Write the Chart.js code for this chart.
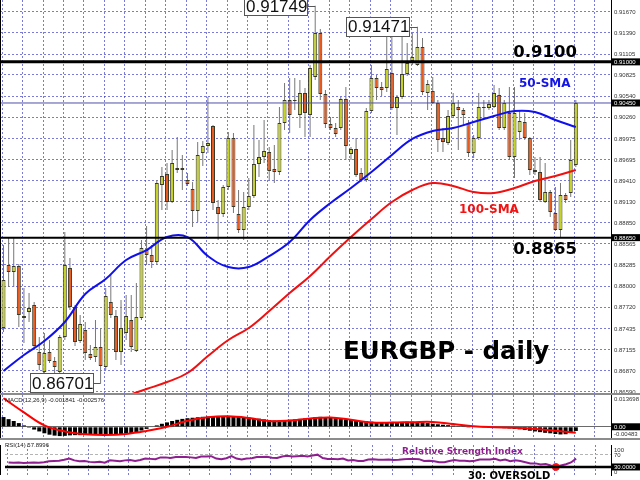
<!DOCTYPE html>
<html>
<head>
<meta charset="utf-8">
<title>EURGBP - daily</title>
<script src="https://cdn.jsdelivr.net/npm/chart.js@4.4.1/dist/chart.umd.min.js"></script>
<style>
  body { margin: 0; background: #fff; }
  #box { position: relative; width: 640px; height: 480px; overflow: hidden; background: #fff; }
  canvas { position: absolute; left: 0; }
  .sep { position: absolute; left: 0; width: 640px; height: 2px; background: #8c8c8c; }
</style>
</head>
<body>
<div id="box">
  <canvas id="priceChart" width="640" height="393" style="top:0"></canvas>
  <div class="sep" style="top:393px"></div>
  <canvas id="macdChart" width="640" height="43" style="top:395px"></canvas>
  <div class="sep" style="top:438px"></div>
  <canvas id="rsiChart" width="640" height="40" style="top:440px"></canvas>
</div>
<script>
// daily candles
var open = [
  0.87442,0.88284,0.88190,0.88271,0.87575,0.87656,0.87749,0.87121,0.86853,0.87121,
  0.87001,0.86853,0.87321,0.88244,0.87722,0.87268,0.87415,0.87094,0.87054,0.87188,
  0.86920,0.87789,0.87602,0.87121,0.87375,0.87549,0.87134,0.87575,0.88484,0.88418,
  0.88324,0.89354,0.89501,0.89126,0.89581,0.89554,0.89420,0.89300,0.89006,0.89781,
  0.89875,0.90142,0.89059,0.88966,0.89327,0.89982,0.88966,0.88752,0.89059,0.89206,
  0.89634,0.89728,0.89795,0.89567,0.89527,0.90182,0.90490,0.90490,0.90289,0.90584,
  0.90289,0.90798,0.91386,0.90570,0.90169,0.90116,0.90116,0.90503,0.89768,0.89835,
  0.89514,0.89420,0.90343,0.90784,0.90664,0.90650,0.90851,0.90383,0.90530,0.90838,
  0.91011,0.90958,0.91199,0.90584,0.90610,0.90450,0.89982,0.89915,0.90276,0.90396,
  0.90356,0.90182,0.89781,0.89982,0.90396,0.90383,0.90396,0.90557,0.90116,0.90316,
  0.89728,0.90062,0.90196,0.89982,0.89527,0.89527,0.89126,0.89260,0.88979,0.88752,
  0.89220,0.89247,0.89621
];
var high = [
  0.88551,0.88645,0.88645,0.88297,0.87976,0.87910,0.87789,0.87321,0.87375,0.87281,
  0.87054,0.87348,0.88725,0.88378,0.87749,0.87615,0.87522,0.87214,0.87549,0.87442,
  0.87976,0.88150,0.87682,0.87816,0.87883,0.87883,0.88043,0.88618,0.88805,0.88551,
  0.89420,0.89594,0.89648,0.89821,0.89995,0.89755,0.89514,0.89394,0.89928,0.89942,
  0.90530,0.90156,0.89153,0.89354,0.90062,0.90049,0.89287,0.89260,0.89447,0.90156,
  0.89955,0.90223,0.89862,0.89888,0.90396,0.90717,0.90784,0.90784,0.90757,0.90650,
  0.90958,0.91749,0.91439,0.90624,0.90263,0.90182,0.90530,0.90664,0.89862,0.89982,
  0.89581,0.90383,0.90958,0.90824,0.90731,0.91426,0.91359,0.90557,0.91386,0.91252,
  0.91386,0.91471,0.91319,0.90757,0.90798,0.90490,0.90116,0.90356,0.90584,0.90490,
  0.90383,0.90223,0.90022,0.90584,0.90490,0.90490,0.90691,0.90650,0.90490,0.90664,
  0.90664,0.90356,0.90316,0.89995,0.89728,0.89728,0.89648,0.89287,0.89327,0.89380,
  0.89247,0.89955,0.90490
];
var low = [
  0.87388,0.87990,0.87990,0.87455,0.87241,0.87522,0.87147,0.86880,0.86827,0.86974,
  0.86840,0.86827,0.87281,0.87682,0.87201,0.87241,0.87014,0.87014,0.86987,0.86701,
  0.86880,0.87575,0.87014,0.86947,0.87281,0.87121,0.87121,0.87549,0.88284,0.88244,
  0.88284,0.89019,0.89019,0.89113,0.89514,0.89287,0.89340,0.88792,0.88859,0.89608,
  0.89781,0.89019,0.88618,0.88926,0.89287,0.88979,0.88712,0.88618,0.89019,0.89180,
  0.89461,0.89648,0.89420,0.89380,0.89487,0.90089,0.90049,0.90356,0.90116,0.89995,
  0.89995,0.90757,0.90490,0.90116,0.90089,0.89995,0.90089,0.89688,0.89688,0.89461,
  0.89394,0.89394,0.90316,0.90490,0.90543,0.90597,0.90356,0.90022,0.90503,0.90811,
  0.90958,0.90945,0.90557,0.90356,0.90437,0.89795,0.89795,0.89888,0.90249,0.89821,
  0.90156,0.89728,0.89715,0.89955,0.90249,0.90356,0.90383,0.90089,0.90089,0.89688,
  0.89447,0.89955,0.89955,0.89487,0.89487,0.89126,0.89113,0.88926,0.88739,0.88655,
  0.89113,0.89193,0.89594
];
var close = [
  0.88083,0.88190,0.88271,0.87615,0.87602,0.87709,0.87201,0.86947,0.87107,0.87001,
  0.86920,0.87321,0.88284,0.87722,0.87254,0.87495,0.87107,0.87041,0.87188,0.86934,
  0.87869,0.87615,0.87121,0.87442,0.87602,0.87188,0.87589,0.88511,0.88418,0.88324,
  0.89380,0.89474,0.89126,0.89648,0.89554,0.89581,0.89367,0.89006,0.89755,0.89875,
  0.89915,0.89113,0.88966,0.89327,0.89982,0.89059,0.88752,0.89059,0.89206,0.89634,
  0.89728,0.89808,0.89541,0.89527,0.90182,0.90490,0.90289,0.90477,0.90584,0.90316,
  0.90918,0.91386,0.90570,0.90169,0.90116,0.90035,0.90503,0.89875,0.89835,0.89487,
  0.89420,0.90343,0.90784,0.90650,0.90624,0.90904,0.90383,0.90530,0.90838,0.90985,
  0.91065,0.91199,0.90597,0.90704,0.90450,0.89955,0.89928,0.90276,0.90450,0.90356,
  0.90289,0.89781,0.89982,0.90396,0.90383,0.90437,0.90584,0.90116,0.90450,0.89728,
  0.90316,0.90209,0.89982,0.89554,0.89554,0.89153,0.89260,0.88993,0.88752,0.89220,
  0.89153,0.89688,0.90450
];
var days = close.map(function (c, i) { return i; });

// moving averages, read every 4th day
var smaDays = [0,4,8,12,16,20,24,28,32,36,40,44,48,52,56,60,64,68,72,76,80,84,88,92,96,100,104,108,112];
var sma50 = [0.86867,0.87081,0.87268,0.87522,0.87896,0.88097,0.88351,0.88484,0.88658,0.88658,
  0.88404,0.88257,0.88257,0.88404,0.88591,0.88886,0.89113,0.89313,0.89527,0.89755,
  0.89969,0.90076,0.90116,0.90196,0.90276,0.90343,0.90330,0.90223,0.90129];
var sma100 = [null,null,null,null,null,null,0.86533,0.86626,0.86720,0.86840,
  0.87067,0.87281,0.87442,0.87669,0.87910,0.88137,0.88404,0.88658,0.88899,0.89126,
  0.89287,0.89380,0.89340,0.89260,0.89247,0.89313,0.89407,0.89474,0.89554];

var priceTicks = [0.91670,0.91390,0.91105,0.90825,0.90540,0.90260,0.89975,0.89695,0.89410,
  0.89130,0.88850,0.88565,0.88285,0.88000,0.87720,0.87435,0.87155,0.86870,0.86590];
var levels = [0.9100, 0.9045, 0.8865];
var swingDays = [61, 81, 19];
var swingPrices = [0.91749, 0.91471, 0.86701];

// MACD(12,26,9)
var macd = [
  0.0042,0.0033,0.0025,0.0016,0.0006,-0.0004,-0.0012,-0.0020,-0.0028,-0.0034,
  -0.0038,-0.0040,-0.0039,-0.0037,-0.0036,-0.0036,-0.0035,-0.0035,-0.0034,-0.0035,
  -0.0033,-0.0032,-0.0032,-0.0031,-0.0030,-0.0029,-0.0024,-0.0016,-0.0009,-0.0002,
  0.0006,0.0013,0.0019,0.0025,0.0030,0.0034,0.0037,0.0039,0.0041,0.0043,
  0.0044,0.0045,0.0045,0.0044,0.0045,0.0044,0.0043,0.0042,0.0040,0.0038,
  0.0035,0.0032,0.0029,0.0027,0.0027,0.0028,0.0030,0.0032,0.0034,0.0036,
  0.0038,0.0041,0.0043,0.0041,0.0039,0.0037,0.0035,0.0032,0.0030,0.0027,
  0.0025,0.0024,0.0022,0.0020,0.0019,0.0020,0.0021,0.0020,0.0021,0.0022,
  0.0022,0.0021,0.0019,0.0016,0.0013,0.0011,0.0009,0.0007,0.0005,0.0003,
  0.0001,-0.0001,-0.0002,-0.0002,-0.0003,-0.0004,-0.0004,-0.0005,-0.0006,-0.0007,
  -0.0009,-0.0011,-0.0014,-0.0017,-0.0020,-0.0023,-0.0026,-0.0028,-0.0031,-0.0033,
  -0.0032,-0.0027,-0.0018
];
var signal = [0.0123,0.0062,0.0006,-0.0020,-0.0032,-0.0035,-0.0031,-0.0018,0.0000,0.0026,
  0.0041,0.0045,0.0038,0.0025,0.0027,0.0036,0.0040,0.0030,0.0019,0.0018,
  0.0020,0.0021,0.0012,0.0002,-0.0002,-0.0004,-0.0009,-0.0017,-0.0026];
var macdLegend = [-0.001841, -0.002576];

// RSI(14)
var rsi = [
  45,44,45,43,44,45,44,46,49,50,
  51,54,58,52,49,50,47,46,47,44,
  52,51,49,52,53,50,53,58,57,56,
  62,62,60,63,63,63,62,60,65,65,
  66,58,56,59,66,58,55,58,59,63,
  63,64,61,60,65,67,65,66,67,65,
  68,71,60,57,57,56,58,52,53,50,
  50,55,56,54,54,55,53,54,56,57,
  57,56,50,51,49,46,46,50,53,51,
  51,49,51,55,55,55,57,52,55,49,
  52,50,46,42,42,38,40,35,31,35,
  39,45,57.8996
];
var oversoldDays = [108];
var oversoldValues = [30];

var X_MIN = -0.685, X_MAX = 118.885;
var GRID = 'rgba(50, 50, 200, 0.65)';
var AXIS_FONT = '6px "Liberation Sans", Arial, sans-serif';
var BOLD = '"DejaVu Sans", Verdana, sans-serif';

function xAxis() {
  return {
    type: 'linear', min: X_MIN, max: X_MAX, offset: false,
    afterBuildTicks: function (s) {
      s.ticks = [];
      for (var k = 0; k * 4 - 0.25 <= X_MAX; k++) s.ticks.push({ value: k * 4 - 0.25 });
    },
    afterFit: function (s) { s.height = 0; },
    ticks: { display: false },
    grid: { color: GRID, drawTicks: false, offset: false },
    border: { display: false, dash: [2, 2] }
  };
}

function yAxis(min, max, tickVals, color, dash) {
  return {
    position: 'right', min: min, max: max,
    afterBuildTicks: function (s) { s.ticks = tickVals.map(function (v) { return { value: v }; }); },
    afterFit: function (s) { s.width = 29; },
    ticks: { display: false },
    grid: { color: color, drawTicks: false },
    border: { display: true, color: '#000', width: 1, dash: dash }
  };
}

function axisLabel(ctx, area, y, text, boxed) {
  ctx.save();
  ctx.font = AXIS_FONT;
  ctx.textAlign = 'left';
  ctx.textBaseline = 'middle';
  if (boxed) {
    ctx.fillStyle = '#000';
    ctx.fillRect(area.right + 1, y - 3.5, 28, 7);
    ctx.fillStyle = '#fff';
  } else {
    ctx.fillStyle = '#333';
  }
  ctx.fillText(text, area.right + 3, y + 0.5);
  ctx.restore();
}

function leftEdge(ctx, area) {
  ctx.save();
  ctx.strokeStyle = '#000';
  ctx.lineWidth = 1;
  ctx.beginPath();
  ctx.moveTo(0.5, area.top);
  ctx.lineTo(0.5, area.bottom);
  ctx.stroke();
  ctx.restore();
}

var baseOptions = {
  responsive: false,
  animation: false,
  events: [],
  devicePixelRatio: 1,
  layout: { padding: 0 },
  plugins: { legend: { display: false }, tooltip: { enabled: false } }
};

// ---------- price panel ----------
var BULL = '#c6d22c', BEAR = '#e85a1e';
var levelWidth = [3, 1, 2];
var levelColor = ['#000', '#5050a8', '#000'];

var priceOverlay = {
  id: 'priceOverlay',
  afterDraw: function (chart) {
    var ctx = chart.ctx, a = chart.chartArea, x = chart.scales.x, y = chart.scales.y;
    ctx.save();
    levels.forEach(function (v, k) {
      var py = y.getPixelForValue(v);
      ctx.strokeStyle = levelColor[k];
      ctx.lineWidth = levelWidth[k];
      ctx.beginPath();
      ctx.moveTo(a.left, py);
      ctx.lineTo(a.right, py);
      ctx.stroke();
    });
    leftEdge(ctx, a);

    priceTicks.forEach(function (v) { axisLabel(ctx, a, y.getPixelForValue(v), v.toFixed(5), false); });
    levels.forEach(function (v) { axisLabel(ctx, a, y.getPixelForValue(v), v.toFixed(5), true); });

    // swing high / low boxes
    ctx.font = '17px "Liberation Sans", Arial, sans-serif';
    swingDays.forEach(function (d, k) {
      var px = x.getPixelForValue(d), py = y.getPixelForValue(swingPrices[k]);
      var right = Math.round(px - 7), left = right - 64;
      ctx.fillStyle = '#fff';
      ctx.fillRect(left, py - 10, 64, 20);
      ctx.strokeStyle = '#555';
      ctx.lineWidth = 1;
      ctx.strokeRect(left + 0.5, Math.round(py - 10) + 0.5, 63, 19);
      ctx.beginPath();
      ctx.moveTo(right, Math.round(py) + 0.5);
      ctx.lineTo(px, Math.round(py) + 0.5);
      ctx.stroke();
      ctx.fillStyle = '#111';
      ctx.textAlign = 'left';
      ctx.textBaseline = 'middle';
      ctx.fillText(swingPrices[k].toFixed(5), left + 2, py + 1);
    });

    // captions
    ctx.textBaseline = 'alphabetic';
    ctx.fillStyle = '#000';
    ctx.font = 'bold 16.5px ' + BOLD;
    ctx.textAlign = 'right';
    ctx.fillText(levels[0].toFixed(4), 577, y.getPixelForValue(levels[0]) - 5);
    ctx.fillText(levels[2].toFixed(4), 577, y.getPixelForValue(levels[2]) + 16.5);
    ctx.textAlign = 'left';
    ctx.font = 'bold 12px ' + BOLD;
    ctx.fillStyle = '#1414e6';
    ctx.fillText('50-SMA', 519, 87);
    ctx.fillStyle = '#f01414';
    ctx.fillText('100-SMA', 459, 213);
    ctx.fillStyle = '#000';
    ctx.font = 'bold 24.5px ' + BOLD;
    ctx.fillText('EURGBP - daily', 343, 359);
    ctx.restore();
  }
};

new Chart(document.getElementById('priceChart'), {
  type: 'bar',
  data: {
    datasets: [
      {
        type: 'line', label: '50-SMA',
        data: smaDays.map(function (d, k) { return { x: d, y: sma50[k] }; }),
        borderColor: '#1010ee', borderWidth: 2, pointRadius: 0, tension: 0.4, order: 0
      },
      {
        type: 'line', label: '100-SMA',
        data: smaDays.map(function (d, k) { return { x: d, y: sma100[k] }; })
          .filter(function (p) { return p.y !== null; }),
        borderColor: '#f01010', borderWidth: 2, pointRadius: 0, tension: 0.4, order: 0
      },
      {
        label: 'body',
        data: days.map(function (i) { return { x: i, y: [open[i], close[i]] }; }),
        backgroundColor: days.map(function (i) { return close[i] >= open[i] ? BULL : BEAR; }),
        borderColor: '#3a3a2a', borderWidth: 1, borderSkipped: false,
        barThickness: 4, grouped: false, inflateAmount: 0, order: 1
      },
      {
        label: 'wick',
        data: days.map(function (i) { return { x: i, y: [low[i], high[i]] }; }),
        backgroundColor: '#777', borderWidth: 0,
        barThickness: 1, grouped: false, inflateAmount: 0, order: 2
      }
    ]
  },
  options: Object.assign({}, baseOptions, {
    scales: {
      x: xAxis(),
      y: yAxis(0.86573, 0.91827, priceTicks, GRID, [2, 2])
    }
  }),
  plugins: [priceOverlay]
});

// ---------- MACD panel ----------
var macdOverlay = {
  id: 'macdOverlay',
  afterDraw: function (chart) {
    var ctx = chart.ctx, a = chart.chartArea, y = chart.scales.y;
    leftEdge(ctx, a);
    axisLabel(ctx, a, a.top + 4, y.max.toFixed(6), false);
    axisLabel(ctx, a, y.getPixelForValue(0), '0.00', true);
    axisLabel(ctx, a, a.bottom - 4, y.min.toFixed(5), false);
    ctx.save();
    ctx.font = AXIS_FONT;
    ctx.fillStyle = '#222';
    ctx.textBaseline = 'middle';
    ctx.fillText('MACD(12,26,9) ' + macdLegend[0].toFixed(6) + ' ' + macdLegend[1].toFixed(6), 5, 5.5);
    ctx.restore();
  }
};

new Chart(document.getElementById('macdChart'), {
  type: 'bar',
  data: {
    datasets: [
      {
        type: 'line', label: 'signal',
        data: smaDays.map(function (d, k) { return { x: d, y: signal[k] }; }),
        borderColor: '#ff0000', borderWidth: 2, pointRadius: 0, tension: 0.4, order: 0
      },
      {
        label: 'MACD',
        data: days.map(function (i) { return { x: i, y: macd[i] }; }),
        backgroundColor: '#000', barThickness: 4, grouped: false, inflateAmount: 0, order: 1
      }
    ]
  },
  options: Object.assign({}, baseOptions, {
    scales: {
      x: xAxis(),
      y: yAxis(-0.00483, 0.013698, [0], '#6a6a6a', [])
    }
  }),
  plugins: [macdOverlay]
});

// ---------- RSI panel ----------
var rsiOverlay = {
  id: 'rsiOverlay',
  afterDraw: function (chart) {
    var ctx = chart.ctx, a = chart.chartArea, y = chart.scales.y;
    ctx.save();
    var p30 = y.getPixelForValue(30);
    ctx.strokeStyle = '#000';
    ctx.lineWidth = 2.5;
    ctx.beginPath();
    ctx.moveTo(a.left, p30);
    ctx.lineTo(a.right, p30);
    ctx.stroke();
    ctx.restore();
    leftEdge(ctx, a);
    axisLabel(ctx, a, a.top + 5, '100', false);
    axisLabel(ctx, a, y.getPixelForValue(70), '70', false);
    axisLabel(ctx, a, p30, '30.0000', true);
    axisLabel(ctx, a, a.bottom - 3, '0', false);
    ctx.save();
    ctx.font = AXIS_FONT;
    ctx.fillStyle = '#222';
    ctx.textBaseline = 'middle';
    ctx.fillText('RSI(14) ' + rsi[rsi.length - 1].toFixed(4), 5, 5.5);
    ctx.textBaseline = 'alphabetic';
    ctx.font = 'bold 9px ' + BOLD;
    ctx.fillStyle = '#8e1f8e';
    ctx.fillText('Relative Strength Index', 402, 13.5);
    ctx.font = 'bold 10px ' + BOLD;
    ctx.fillStyle = '#000';
    ctx.fillText('30: OVERSOLD', 468, 39.3);
    ctx.restore();
  }
};

new Chart(document.getElementById('rsiChart'), {
  type: 'line',
  data: {
    datasets: [
      {
        label: 'oversold',
        data: oversoldDays.map(function (d, k) { return { x: d, y: oversoldValues[k] }; }),
        showLine: false, pointRadius: 3.5, pointBackgroundColor: '#ff1010',
        pointBorderColor: '#ff1010', order: 0
      },
      {
        label: 'RSI',
        data: days.map(function (i) { return { x: i, y: rsi[i] }; }),
        borderColor: '#8e1f8e', borderWidth: 2, pointRadius: 0, tension: 0, order: 1
      }
    ]
  },
  options: Object.assign({}, baseOptions, {
    scales: {
      x: xAxis(),
      y: yAxis(3.25, 103.25, [70], '#b4b4b4', [3, 2])
    }
  }),
  plugins: [rsiOverlay]
});
</script>
</body>
</html>
